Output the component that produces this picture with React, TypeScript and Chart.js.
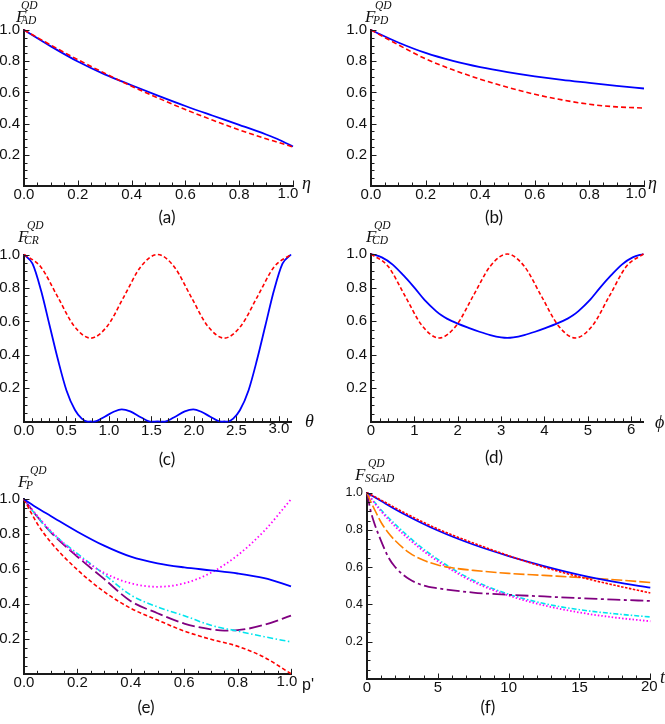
import React, { useEffect, useRef } from 'react';
import { Chart, registerables } from 'chart.js';

Chart.register(...registerables);

// ---------- DATA ----------
// (a) amplitude damping
const etaA = [0, 0.1, 0.2, 0.3, 0.4, 0.5, 0.6, 0.7, 0.8, 0.9, 0.95, 1.0];
const adBlue = [1.0, 0.895, 0.798, 0.716, 0.646, 0.578, 0.513, 0.452, 0.392, 0.33, 0.295, 0.253];
const adRed = [1.0, 0.903, 0.81, 0.723, 0.64, 0.563, 0.49, 0.423, 0.36, 0.303, 0.277, 0.25];

// (b) phase damping
const etaB = [0, 0.1, 0.2, 0.3, 0.4, 0.5, 0.6, 0.7, 0.8, 0.9, 1.0];
const pdBlue = [1.0, 0.92, 0.853, 0.802, 0.762, 0.73, 0.703, 0.68, 0.661, 0.642, 0.625];
const pdRed = [1.0, 0.905, 0.815, 0.745, 0.685, 0.633, 0.588, 0.552, 0.524, 0.507, 0.5];

// (c) theta
const thetaRed = [0, 0.196, 0.393, 0.589, 0.785, 0.982, 1.178, 1.374, 1.571, 1.767, 1.963, 2.16, 2.356, 2.553, 2.749, 2.945, 3.142];
const crRed = [1, 0.927, 0.75, 0.573, 0.5, 0.573, 0.75, 0.927, 1, 0.927, 0.75, 0.573, 0.5, 0.573, 0.75, 0.927, 1];
const thetaBlue = [0, 0.1, 0.2, 0.3, 0.4, 0.5, 0.6, 0.68, 0.75, 0.785, 0.82, 0.95, 1.05, 1.15, 1.25, 1.38, 1.5, 1.571, 1.642, 1.762, 1.892, 1.992, 2.092, 2.192, 2.322, 2.357, 2.392, 2.462, 2.542, 2.642, 2.742, 2.842, 2.942, 3.042, 3.142];
const crBlue = [1, 0.945, 0.786, 0.578, 0.37, 0.187, 0.07, 0.018, 0, 0.002, 0, 0.03, 0.058, 0.074, 0.062, 0.025, 0, 0.002, 0, 0.025, 0.062, 0.074, 0.058, 0.03, 0, 0.002, 0, 0.018, 0.07, 0.187, 0.37, 0.578, 0.786, 0.945, 1];

// (d) phi
const phiRed = [0, 0.393, 0.785, 1.178, 1.571, 1.963, 2.356, 2.749, 3.142, 3.534, 3.927, 4.32, 4.712, 5.105, 5.498, 5.89, 6.283];
const cdRed = [1, 0.927, 0.75, 0.573, 0.5, 0.573, 0.75, 0.927, 1, 0.927, 0.75, 0.573, 0.5, 0.573, 0.75, 0.927, 1];
const phiBlue = [0, 0.25, 0.5, 0.75, 1.0, 1.25, 1.5, 1.625, 1.75, 2.0, 2.25, 2.5, 2.75, 3.0, 3.142, 3.283, 3.533, 3.783, 4.033, 4.283, 4.533, 4.658, 4.783, 5.033, 5.283, 5.533, 5.783, 6.033, 6.283];
const cdBlue = [1, 0.98, 0.937, 0.872, 0.8, 0.722, 0.66, 0.635, 0.615, 0.585, 0.56, 0.537, 0.517, 0.503, 0.5, 0.503, 0.517, 0.537, 0.56, 0.585, 0.615, 0.635, 0.66, 0.722, 0.8, 0.872, 0.937, 0.98, 1];

// (e) p'
const pE = [0, 0.05, 0.1, 0.2, 0.3, 0.4, 0.5, 0.6, 0.7, 0.8, 0.9, 1.0];
const pBlue = [1, 0.95, 0.905, 0.815, 0.735, 0.672, 0.634, 0.611, 0.594, 0.576, 0.549, 0.503];
const pRed = [1, 0.86, 0.755, 0.597, 0.472, 0.377, 0.31, 0.247, 0.2, 0.16, 0.097, 0.003];
const pMagenta = [1, 0.905, 0.82, 0.68, 0.58, 0.52, 0.5, 0.52, 0.58, 0.68, 0.82, 1.0];
const pCyan = [1, 0.9, 0.815, 0.69, 0.572, 0.453, 0.385, 0.335, 0.28, 0.247, 0.215, 0.185];
const pPurpleX = [0, 0.05, 0.1, 0.2, 0.3, 0.4, 0.5, 0.6, 0.7, 0.75, 0.8, 0.9, 1.0];
const pPurple = [1, 0.9, 0.812, 0.672, 0.545, 0.418, 0.349, 0.29, 0.257, 0.25, 0.252, 0.283, 0.335];

// (f) t
const tBR = [0, 1, 2.5, 5, 7.5, 10, 12.5, 15, 17.5, 20];
const sBlue = [1, 0.955, 0.89, 0.797, 0.722, 0.66, 0.606, 0.559, 0.521, 0.49];
const sRed = [1, 0.96, 0.898, 0.805, 0.73, 0.662, 0.6, 0.548, 0.503, 0.462];
const tOrange = [0, 0.25, 0.5, 1, 1.5, 2, 3, 4, 5, 6, 7.5, 10, 12.5, 15, 17.5, 20];
const sOrange = [1, 0.955, 0.915, 0.84, 0.785, 0.742, 0.677, 0.637, 0.612, 0.597, 0.583, 0.567, 0.556, 0.545, 0.533, 0.518];
const tPurple = [0, 0.25, 0.5, 1, 1.5, 2, 3, 4, 5, 7.5, 10, 12.5, 15, 17.5, 20];
const sPurple = [1, 0.905, 0.84, 0.74, 0.655, 0.6, 0.535, 0.502, 0.487, 0.464, 0.452, 0.443, 0.434, 0.426, 0.419];
const tCM = [0, 0.5, 1, 2, 3, 4, 5, 6, 7.5, 10, 12.5, 15, 17.5, 20];
const sCyan = [1, 0.952, 0.907, 0.83, 0.76, 0.697, 0.642, 0.593, 0.53, 0.455, 0.405, 0.372, 0.35, 0.333];
const sMagenta = [1, 0.948, 0.9, 0.818, 0.748, 0.686, 0.632, 0.584, 0.522, 0.448, 0.395, 0.357, 0.33, 0.31];

// tick labels
const yTicksAll = [0.2, 0.4, 0.6, 0.8, 1.0];
const xTicksUnit = [0, 0.2, 0.4, 0.6, 0.8, 1.0];
const xTicksTheta = [0, 0.5, 1.0, 1.5, 2.0, 2.5, 3.0];
const xTicksPhi = [0, 1, 2, 3, 4, 5, 6];
const xTicksT = [0, 5, 10, 15, 20];

// ---------- STYLE ----------
const BLUE = '#0000ff';
const RED = '#ff0000';
const MAGENTA = '#ff00ff';
const CYAN = '#00e5ee';
const PURPLE = '#800080';
const ORANGE = '#ff8000';
const AXIS = '#1a1a1a';
const TEXT = '#111111';
const SANS = '"Liberation Sans", Arial, sans-serif';
const SERIF = '"Liberation Serif", "DejaVu Serif", serif';
const CAPFONT = 'Lato, "Open Sans", sans-serif';

type Series = { xs: number[]; ys: number[]; color: string; width: number; dash: number[] };
type Panel = {
  canvas: { l: number; t: number; w: number; h: number };
  plot: { l: number; r: number; t: number; b: number };
  xMin: number; xMax: number; xMajor: number; xMinor: number; xTicks: number[]; xDigits: number;
  lastShift: number; // px the last x tick label is pulled left (as in the reference)
  yFont: number; xFont: number;
  series: Series[];
  yLabel: { sub: string; x: number; base: number; supDx: number; subDx: number };
  xName: { text: string; x: number; y: number; italic: boolean };
  caption: { text: string; x: number; y: number };
};

const XH = 20;

const panels: Panel[] = [
  {
    canvas: { l: 0, t: 0, w: 340, h: 232 },
    plot: { l: 24, r: 293, t: 30, b: 186 },
    xMin: 0, xMax: 1, xMajor: 0.2, xMinor: 0.05, xTicks: xTicksUnit, xDigits: 1, lastShift: 5,
    yFont: 15, xFont: 15,
    series: [
      { xs: etaA, ys: adRed, color: RED, width: 1.6, dash: [5, 3] },
      { xs: etaA, ys: adBlue, color: BLUE, width: 1.8, dash: [] },
    ],
    yLabel: { sub: 'AD', x: 16, base: 22, supDx: 5, subDx: 5 },
    xName: { text: 'η', x: 302, y: 184, italic: true },
    caption: { text: '(a)', x: 167, y: 218 },
  },
  {
    canvas: { l: 332, t: 0, w: 333, h: 232 },
    plot: { l: 371, r: 644, t: 30, b: 186 },
    xMin: 0, xMax: 1, xMajor: 0.2, xMinor: 0.05, xTicks: xTicksUnit, xDigits: 1, lastShift: 8,
    yFont: 15, xFont: 15,
    series: [
      { xs: etaB, ys: pdRed, color: RED, width: 1.6, dash: [5, 3] },
      { xs: etaB, ys: pdBlue, color: BLUE, width: 1.8, dash: [] },
    ],
    yLabel: { sub: 'PD', x: 365, base: 22, supDx: 10, subDx: 8 },
    xName: { text: 'η', x: 648, y: 184, italic: true },
    caption: { text: '(b)', x: 494, y: 218 },
  },
  {
    canvas: { l: 0, t: 216, w: 340, h: 256 },
    plot: { l: 24, r: 291, t: 254.5, b: 421.7 },
    xMin: 0, xMax: 3.142, xMajor: 0.5, xMinor: 0.1, xTicks: xTicksTheta, xDigits: 1, lastShift: 0,
    yFont: 15, xFont: 15,
    series: [
      { xs: thetaRed, ys: crRed, color: RED, width: 1.6, dash: [4, 2.5] },
      { xs: thetaBlue, ys: crBlue, color: BLUE, width: 1.8, dash: [] },
    ],
    yLabel: { sub: 'CR', x: 18, base: 242, supDx: 9, subDx: 6 },
    xName: { text: 'θ', x: 305, y: 422, italic: true },
    caption: { text: '(c)', x: 167, y: 460 },
  },
  {
    canvas: { l: 332, t: 216, w: 333, h: 256 },
    plot: { l: 371, r: 643.5, t: 254, b: 421.9 },
    xMin: 0, xMax: 6.283, xMajor: 1, xMinor: 0.2, xTicks: xTicksPhi, xDigits: 0, lastShift: 0,
    yFont: 15, xFont: 15,
    series: [
      { xs: phiRed, ys: cdRed, color: RED, width: 1.6, dash: [4, 2.5] },
      { xs: phiBlue, ys: cdBlue, color: BLUE, width: 1.8, dash: [] },
    ],
    yLabel: { sub: 'CD', x: 366, base: 242, supDx: 8, subDx: 6 },
    xName: { text: 'ϕ', x: 655, y: 423, italic: true },
    caption: { text: '(d)', x: 494, y: 458 },
  },
  {
    canvas: { l: 0, t: 452, w: 340, h: 272 },
    plot: { l: 24, r: 291, t: 499.3, b: 674.3 },
    xMin: 0, xMax: 1, xMajor: 0.2, xMinor: 0.05, xTicks: xTicksUnit, xDigits: 1, lastShift: 4,
    yFont: 15, xFont: 15,
    series: [
      { xs: pE, ys: pBlue, color: BLUE, width: 1.8, dash: [] },
      { xs: pE, ys: pRed, color: RED, width: 1.6, dash: [4, 2.5] },
      { xs: pE, ys: pMagenta, color: MAGENTA, width: 1.8, dash: [1.5, 2.5] },
      { xs: pE, ys: pCyan, color: CYAN, width: 1.6, dash: [6, 2.5, 1.5, 2.5] },
      { xs: pPurpleX, ys: pPurple, color: PURPLE, width: 1.8, dash: [13, 4] },
    ],
    yLabel: { sub: 'P', x: 18, base: 487, supDx: 12, subDx: 8 },
    xName: { text: "p'", x: 302, y: 686, italic: false },
    caption: { text: '(e)', x: 146, y: 708 },
  },
  {
    canvas: { l: 332, t: 452, w: 333, h: 272 },
    plot: { l: 367, r: 650.3, t: 492.7, b: 679 },
    xMin: 0, xMax: 20, xMajor: 5, xMinor: 1, xTicks: xTicksT, xDigits: 0, lastShift: 1,
    yFont: 12.5, xFont: 15,
    series: [
      { xs: tBR, ys: sRed, color: RED, width: 1.6, dash: [2.5, 1.5] },
      { xs: tBR, ys: sBlue, color: BLUE, width: 1.8, dash: [] },
      { xs: tOrange, ys: sOrange, color: ORANGE, width: 1.6, dash: [11, 3] },
      { xs: tPurple, ys: sPurple, color: PURPLE, width: 1.8, dash: [13, 3.5, 3, 3.5] },
      { xs: tCM, ys: sMagenta, color: MAGENTA, width: 1.8, dash: [1.5, 2] },
      { xs: tCM, ys: sCyan, color: CYAN, width: 1.6, dash: [5, 2, 1.5, 2] },
    ],
    yLabel: { sub: 'SGAD', x: 355, base: 480, supDx: 13, subDx: 10 },
    xName: { text: 't', x: 660, y: 678, italic: true },
    caption: { text: '(f)', x: 488, y: 708 },
  },
];

function drawDecor(chart: any, p: Panel) {
  const ctx: CanvasRenderingContext2D = chart.ctx;
  const xs = chart.scales.x;
  const ys = chart.scales.y;
  const ox = p.canvas.l;
  const oy = p.canvas.t;
  ctx.save();
  ctx.strokeStyle = AXIS;
  ctx.lineWidth = 1;
  const y0 = ys.getPixelForValue(0);
  const x0 = xs.getPixelForValue(p.xMin);
  // x ticks (inward)
  for (let k = 0; k * p.xMinor <= p.xMax + 1e-9; k++) {
    const v = k * p.xMinor;
    const r = v / p.xMajor;
    const major = Math.abs(r - Math.round(r)) < 1e-6;
    const len = major ? 4.5 : 2.5;
    const px = Math.round(xs.getPixelForValue(v)) + 0.5;
    ctx.beginPath();
    ctx.moveTo(px, y0);
    ctx.lineTo(px, y0 - len - 1);
    ctx.stroke();
  }
  // y ticks (inward)
  for (let k = 0; k <= 20; k++) {
    const v = k * 0.05;
    const major = k % 4 === 0;
    const len = major ? 4.5 : 2.5;
    const py = Math.round(ys.getPixelForValue(v)) + 0.5;
    ctx.beginPath();
    ctx.moveTo(x0, py);
    ctx.lineTo(x0 + len + 1, py);
    ctx.stroke();
  }
  ctx.fillStyle = TEXT;
  // last x tick label (pulled left like the reference)
  const lastVal = p.xTicks[p.xTicks.length - 1];
  ctx.textAlign = 'center';
  ctx.textBaseline = 'top';
  ctx.font = `${p.xFont}px ${SANS}`;
  ctx.fillText(lastVal.toFixed(p.xDigits), xs.getPixelForValue(lastVal) - p.lastShift, y0);
  // y label F^{QD}_{sub}
  ctx.textAlign = 'left';
  ctx.textBaseline = 'alphabetic';
  ctx.font = `italic 17px ${SERIF}`;
  ctx.fillText('F', p.yLabel.x - ox, p.yLabel.base - oy);
  ctx.font = `italic 11.5px ${SERIF}`;
  ctx.fillText('QD', p.yLabel.x + p.yLabel.supDx - ox, p.yLabel.base - 13 - oy);
  ctx.fillText(p.yLabel.sub, p.yLabel.x + p.yLabel.subDx - ox, p.yLabel.base + 2 - oy);
  // x axis name
  ctx.textBaseline = 'middle';
  ctx.font = p.xName.italic ? `italic 18px ${SERIF}` : `16px ${SANS}`;
  ctx.fillText(p.xName.text, p.xName.x - ox, p.xName.y - oy);
  // caption
  ctx.textAlign = 'center';
  ctx.font = `17px ${CAPFONT}`;
  ctx.fillText(p.caption.text, p.caption.x - ox, p.caption.y - oy);
  ctx.restore();
}

function makeChart(canvas: HTMLCanvasElement, p: Panel) {
  const c = p.canvas;
  const pl = p.plot;
  const yW = pl.l - c.l;
  const padTop = pl.t - c.t;
  const padRight = c.l + c.w - pl.r;
  const padBottom = c.t + c.h - pl.b - XH;
  const lastVal = p.xTicks[p.xTicks.length - 1];
  return new Chart(canvas, {
    type: 'line',
    data: {
      datasets: p.series.map((s) => ({
        data: s.xs.map((x, i) => ({ x, y: s.ys[i] })),
        borderColor: s.color,
        borderWidth: s.width,
        borderDash: s.dash,
        pointRadius: 0,
        fill: false,
        cubicInterpolationMode: 'monotone' as const,
        clip: false as any,
      })),
    },
    options: {
      responsive: false,
      animation: false,
      events: [],
      layout: { padding: { left: 0, top: padTop, right: padRight, bottom: padBottom } },
      plugins: { legend: { display: false }, tooltip: { enabled: false }, title: { display: false } },
      scales: {
        x: {
          type: 'linear',
          min: p.xMin,
          max: p.xMax,
          afterFit: (s: any) => {
            s.height = XH;
            s.paddingLeft = 0;
            s.paddingRight = 0;
          },
          afterBuildTicks: (s: any) => {
            s.ticks = p.xTicks.map((v) => ({ value: v }));
          },
          ticks: {
            autoSkip: false,
            maxRotation: 0,
            padding: 0,
            color: TEXT,
            font: { family: SANS, size: p.xFont },
            callback: (v: any) => (Math.abs(Number(v) - lastVal) < 1e-9 ? '' : Number(v).toFixed(p.xDigits)),
          },
          grid: { display: false, drawTicks: false },
          border: { display: true, color: AXIS, width: 2 },
        },
        y: {
          type: 'linear',
          min: 0,
          max: 1,
          afterFit: (s: any) => {
            s.width = yW;
            s.paddingTop = 0;
            s.paddingBottom = 0;
          },
          afterBuildTicks: (s: any) => {
            s.ticks = yTicksAll.map((v) => ({ value: v }));
          },
          ticks: {
            autoSkip: false,
            padding: 4,
            color: TEXT,
            font: { family: SANS, size: p.yFont },
            callback: (v: any) => Number(v).toFixed(1),
          },
          grid: { display: false, drawTicks: false },
          border: { display: true, color: AXIS, width: 2 },
        },
      },
    },
    plugins: [
      {
        id: 'decor',
        afterDraw: (chart: any) => drawDecor(chart, p),
      },
    ],
  } as any);
}

export default function App() {
  const refs = useRef<(HTMLCanvasElement | null)[]>([]);
  useEffect(() => {
    const charts = panels.map((p, i) => makeChart(refs.current[i] as HTMLCanvasElement, p));
    return () => charts.forEach((ch) => ch.destroy());
  }, []);
  return (
    <div style={{ position: 'absolute', left: 0, top: 0, width: 665, height: 724, overflow: 'hidden', background: '#ffffff' }}>
      {panels.map((p, i) => (
        <canvas
          key={i}
          ref={(el) => {
            refs.current[i] = el;
          }}
          width={p.canvas.w}
          height={p.canvas.h}
          style={{ position: 'absolute', left: p.canvas.l, top: p.canvas.t, width: p.canvas.w, height: p.canvas.h }}
        />
      ))}
    </div>
  );
}
